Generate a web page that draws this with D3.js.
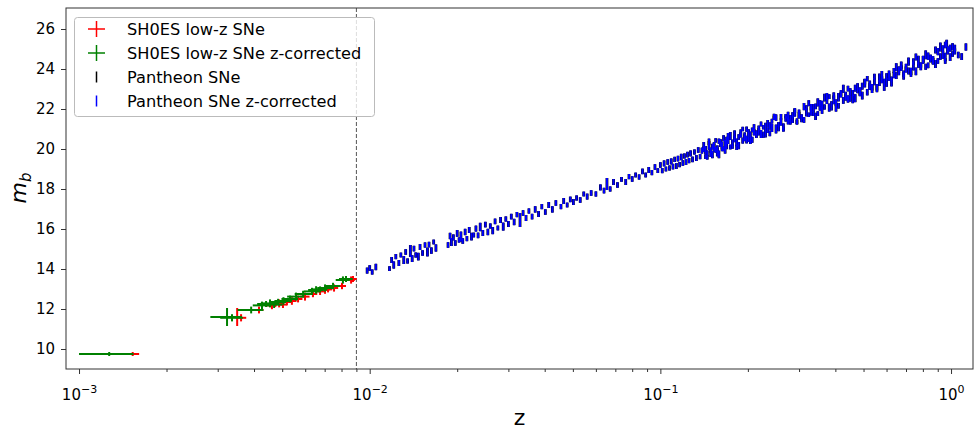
<!DOCTYPE html>
<html>
<head>
  <meta charset="utf-8">
  <style>
  body { margin: 0; background: #fff; }
  svg text { font-family: "DejaVu Sans", sans-serif; fill: #000; }
  .axis path, .axis line { stroke: #333; }
  .axis text { font-size: 15px; font-family: "DejaVu Sans", sans-serif; }
  .legend text { font-size: 16.2px; }
  </style>
</head>
<body>
<script src="https://d3js.org/d3.v7.min.js"></script>
<script type="text/javascript">
// SH0ES calibrators: [z, zErr, zCorrected, zCorrectedErr, mb, mbErr]
var sh0es = [
  [0.00153, 0.00008, 0.00127, 0.00027, 9.75, 0.10],
  [0.00350, 0.00012, 0.00323, 0.00040, 11.60, 0.45],
  [0.00361, 0.00015, 0.00336, 0.00030, 11.56, 0.18],
  [0.00416, 0.00015, 0.00391, 0.00040, 11.95, 0.17],
  [0.00461, 0.00018, 0.00426, 0.00030, 12.18, 0.19],
  [0.00472, 0.00018, 0.00440, 0.00030, 12.25, 0.15],
  [0.00488, 0.00018, 0.00454, 0.00032, 12.28, 0.20],
  [0.00503, 0.00018, 0.00469, 0.00032, 12.22, 0.17],
  [0.00519, 0.00020, 0.00484, 0.00032, 12.35, 0.16],
  [0.00540, 0.00020, 0.00505, 0.00035, 12.40, 0.19],
  [0.00567, 0.00020, 0.00532, 0.00035, 12.50, 0.17],
  [0.00599, 0.00022, 0.00558, 0.00038, 12.62, 0.20],
  [0.00638, 0.00022, 0.00590, 0.00038, 12.75, 0.16],
  [0.00675, 0.00024, 0.00633, 0.00040, 12.88, 0.18],
  [0.00702, 0.00024, 0.00654, 0.00040, 12.95, 0.19],
  [0.00719, 0.00024, 0.00675, 0.00040, 12.98, 0.15],
  [0.00754, 0.00025, 0.00702, 0.00042, 13.05, 0.18],
  [0.00803, 0.00026, 0.00748, 0.00042, 13.15, 0.16],
  [0.00863, 0.00026, 0.00809, 0.00045, 13.45, 0.18],
  [0.00876, 0.00026, 0.00829, 0.00045, 13.50, 0.15]
];

// Pantheon, low z: [z, mb, mbErr]
var pantheonLow = [
  [0.0098,13.92,0.15],[0.0100,14.05,0.14],[0.0102,13.85,0.13],[0.0105,14.10,0.16],
  [0.0117,14.02,0.12],[0.0119,14.45,0.15],[0.0121,14.20,0.18],[0.0123,14.62,0.13],
  [0.0126,14.30,0.15],[0.0128,14.70,0.12],[0.0131,14.45,0.20],[0.0133,14.85,0.14],
  [0.0135,14.40,0.13],[0.0138,14.90,0.30],[0.0140,14.52,0.17],[0.0142,15.02,0.14],
  [0.0144,14.70,0.13],[0.0147,14.62,0.19],[0.0149,15.10,0.15],[0.0152,14.80,0.14],
  [0.0155,15.20,0.13],[0.0158,14.85,0.22],[0.0160,15.22,0.14],[0.0163,14.92,0.16],
  [0.0166,15.35,0.12],[0.0169,15.05,0.18],
  [0.0186,15.20,0.14],[0.0189,15.65,0.16],[0.0191,15.35,0.20],[0.0194,15.58,0.15],
  [0.0197,15.30,0.14],[0.0200,15.78,0.17],[0.0203,15.45,0.13],[0.0206,15.62,0.25],
  [0.0209,15.40,0.14],[0.0213,15.85,0.16],[0.0216,15.52,0.13],[0.0220,15.95,0.15],
  [0.0224,15.62,0.19],[0.0228,15.70,0.12],[0.0232,16.02,0.15],[0.0236,15.68,0.14],
  [0.0240,16.10,0.21],[0.0245,15.80,0.15],[0.0250,16.22,0.14],[0.0255,15.85,0.16],
  [0.0260,16.15,0.13],[0.0265,15.92,0.18],[0.0270,16.38,0.14],[0.0276,16.05,0.12],
  [0.0282,16.45,0.15],[0.0288,16.12,0.20],[0.0294,16.50,0.13],
  [0.0300,16.25,0.15],[0.0307,16.62,0.14],[0.0314,16.35,0.16],[0.0321,16.72,0.13],
  [0.0329,16.45,0.35],[0.0337,16.80,0.14],[0.0345,16.55,0.15],[0.0353,16.90,0.13],
  [0.0362,16.62,0.14],[0.0371,16.98,0.16],[0.0381,16.75,0.15],[0.0391,17.12,0.13],
  [0.0402,16.85,0.14],[0.0413,17.20,0.15],[0.0425,16.98,0.16],[0.0437,17.30,0.14]
];

// Pantheon, intermediate z
var pantheonMid = [
  [0.0455,17.12,0.13],[0.0465,17.40,0.15],[0.0478,17.20,0.12],[0.0490,17.48,0.14],
  [0.0502,17.35,0.15],[0.0515,17.55,0.13],[0.0530,17.45,0.14],[0.0545,17.75,0.12],
  [0.0560,17.62,0.15],[0.0578,17.80,0.14],[0.0600,17.75,0.13],[0.0622,18.08,0.15],
  [0.0640,17.92,0.14],[0.0655,18.25,0.30],[0.0672,18.00,0.13],[0.0690,18.35,0.15],
  [0.0712,18.20,0.14],[0.0735,18.48,0.12],[0.0760,18.35,0.15],[0.0780,18.62,0.13],
  [0.0800,18.50,0.14],[0.0822,18.70,0.12],[0.0845,18.60,0.13],[0.0868,18.88,0.14],
  [0.0890,18.70,0.12],[0.0912,18.95,0.15],[0.0935,18.82,0.13],[0.0958,19.10,0.14],
  [0.0980,18.92,0.12],
  [0.1000,19.20,0.14],[0.1015,18.92,0.13],[0.1030,19.28,0.15],[0.1045,19.00,0.12],
  [0.1060,19.35,0.14],[0.1075,19.05,0.13],[0.1090,19.38,0.15],[0.1105,19.12,0.14],
  [0.1120,19.48,0.13],[0.1135,19.15,0.15],[0.1150,19.52,0.14],[0.1165,19.22,0.13],
  [0.1180,19.60,0.16],[0.1195,19.30,0.14],[0.1210,19.65,0.13],[0.1225,19.35,0.15],
  [0.1240,19.72,0.14],[0.1255,19.42,0.13],[0.1270,19.78,0.15],[0.1290,19.48,0.14],
  [0.1310,19.85,0.13],[0.1330,19.55,0.15],[0.1350,19.95,0.14],[0.1370,19.62,0.13],
  [0.1390,19.92,0.15]
];

// Pantheon, high z
var pantheonHigh = [
  [0.141,19.99,0.14],[0.141,20.17,0.18],[0.143,19.62,0.12],[0.143,19.95,0.20],
  [0.145,19.78,0.15],[0.145,19.58,0.11],[0.147,20.18,0.22],[0.147,20.36,0.16],
  [0.149,19.94,0.13],[0.149,19.79,0.19],[0.151,20.12,0.14],[0.151,19.72,0.18],
  [0.153,20.23,0.12],[0.153,20.07,0.20],[0.155,19.96,0.15],[0.155,20.43,0.11],
  [0.157,19.85,0.22],[0.157,20.02,0.16],[0.159,20.39,0.13],[0.159,19.73,0.19],
  [0.161,20.24,0.14],[0.161,20.31,0.18],[0.163,20.01,0.12],[0.163,20.17,0.20],
  [0.165,20.54,0.15],[0.165,20.00,0.11],[0.167,20.25,0.22],[0.167,19.93,0.16],
  [0.169,20.48,0.13],[0.169,20.18,0.19],[0.171,20.66,0.14],[0.171,20.43,0.18],
  [0.174,20.10,0.12],[0.174,20.65,0.20],[0.177,20.32,0.15],[0.177,20.12,0.11],
  [0.180,20.71,0.22],[0.180,20.50,0.16],[0.183,20.08,0.13],[0.183,20.33,0.19],
  [0.186,20.60,0.14],[0.186,20.17,0.18],[0.189,20.71,0.12],[0.189,20.78,0.20],
  [0.192,20.42,0.15],[0.192,21.00,0.11],[0.195,20.61,0.22],[0.195,20.58,0.16],
  [0.198,20.99,0.13],[0.198,20.47,0.19],[0.201,20.49,0.14],[0.201,20.81,0.18],
  [0.204,20.75,0.12],[0.204,20.45,0.20],[0.207,20.46,0.15],[0.207,20.96,0.11],
  [0.210,21.02,0.22],[0.210,20.84,0.16],[0.214,20.76,0.13],[0.214,20.74,0.19],
  [0.218,21.03,0.14],[0.218,20.86,0.18],[0.222,21.25,0.12],[0.222,20.75,0.20],
  [0.226,20.71,0.15],[0.226,21.09,0.11],[0.230,21.09,0.22],[0.230,20.74,0.16],
  [0.234,20.93,0.13],[0.234,21.26,0.19],[0.238,20.78,0.14],[0.238,21.15,0.18],
  [0.242,21.39,0.12],[0.242,21.05,0.20],[0.246,21.61,0.15],[0.246,21.56,0.11],
  [0.250,21.00,0.22],[0.250,21.57,0.16],[0.255,21.22,0.13],[0.255,21.08,0.19],
  [0.260,21.61,0.14],[0.260,21.35,0.18],[0.265,21.00,0.12],[0.265,21.08,0.20],
  [0.270,21.52,0.15],[0.270,21.64,0.11],[0.275,21.64,0.22],[0.275,21.39,0.16],
  [0.280,21.35,0.13],[0.280,21.51,0.19],[0.285,21.70,0.14],[0.285,21.48,0.18],
  [0.290,21.92,0.12],[0.290,21.82,0.20],[0.295,21.38,0.15],[0.295,21.34,0.11],
  [0.300,21.75,0.22],[0.300,21.70,0.16],[0.306,21.60,0.13],[0.306,21.53,0.19],
  [0.312,21.45,0.14],[0.312,22.12,0.18],[0.318,22.07,0.12],[0.318,21.83,0.20],
  [0.324,22.29,0.15],[0.324,21.71,0.11],[0.330,21.89,0.22],[0.330,22.09,0.16],
  [0.336,21.78,0.13],[0.336,22.06,0.19],[0.342,22.13,0.14],[0.342,21.63,0.18],
  [0.348,21.77,0.12],[0.348,22.33,0.20],[0.354,22.29,0.15],[0.354,22.03,0.11],
  [0.360,22.19,0.22],[0.360,21.92,0.16],[0.367,22.10,0.13],[0.367,22.57,0.19],
  [0.374,22.39,0.14],[0.374,22.62,0.18],[0.381,22.62,0.12],[0.381,22.07,0.20],
  [0.388,22.08,0.15],[0.388,22.28,0.11],[0.395,22.46,0.22],[0.395,22.67,0.16],
  [0.402,22.31,0.17],[0.402,22.06,0.19],[0.410,22.16,0.14],[0.410,22.59,0.21],
  [0.418,22.78,0.16],[0.418,22.71,0.13],[0.426,23.01,0.20],[0.426,22.43,0.17],
  [0.434,22.61,0.15],[0.434,22.64,0.22],[0.442,22.50,0.18],[0.442,23.02,0.14],
  [0.450,22.85,0.19],[0.450,22.53,0.16],[0.459,22.50,0.21],[0.459,22.80,0.15],
  [0.468,23.04,0.17],[0.468,22.54,0.20],[0.477,22.93,0.14],[0.477,23.11,0.18],
  [0.486,22.84,0.16],[0.486,22.86,0.22],[0.495,23.14,0.17],[0.495,22.67,0.19],
  [0.505,23.37,0.14],[0.505,23.29,0.21],[0.515,22.84,0.16],[0.515,23.52,0.13],
  [0.525,23.22,0.20],[0.525,23.12,0.17],[0.535,23.07,0.15],[0.535,23.02,0.22],
  [0.545,23.37,0.18],[0.545,23.62,0.14],[0.556,23.03,0.19],[0.556,23.08,0.16],
  [0.567,23.56,0.21],[0.567,23.30,0.15],[0.578,23.46,0.17],[0.578,23.70,0.20],
  [0.589,23.37,0.14],[0.589,23.09,0.18],[0.600,23.63,0.16],[0.600,23.33,0.22],
  [0.612,23.75,0.17],[0.612,23.60,0.19],[0.624,23.48,0.14],[0.624,23.34,0.21],
  [0.636,23.70,0.16],[0.636,23.92,0.13],[0.648,24.09,0.20],[0.648,23.67,0.17],
  [0.661,23.95,0.15],[0.661,23.91,0.22],[0.674,24.19,0.18],[0.674,24.04,0.14],
  [0.687,23.66,0.19],[0.687,23.76,0.16],[0.700,24.05,0.21],[0.700,23.98,0.15],
  [0.714,23.90,0.17],[0.714,24.37,0.20],[0.728,23.75,0.14],[0.728,23.88,0.18],
  [0.742,24.37,0.16],[0.742,24.15,0.22],[0.757,24.60,0.17],[0.757,23.88,0.19],
  [0.772,24.20,0.14],[0.772,24.45,0.21],[0.787,24.10,0.16],[0.787,24.20,0.13],
  [0.802,24.46,0.20],[0.802,24.48,0.17],[0.818,24.11,0.15],[0.818,24.71,0.22],
  [0.834,24.64,0.18],[0.834,24.18,0.14],[0.850,24.52,0.19],[0.850,24.55,0.16],
  [0.867,24.43,0.21],[0.867,24.40,0.15],[0.884,24.95,0.17],[0.884,24.25,0.20],
  [0.901,24.40,0.14],[0.901,24.87,0.18],[0.919,24.62,0.16],[0.919,25.10,0.22],
  [0.937,25.01,0.17],[0.937,24.70,0.19],[0.955,24.40,0.14],[0.955,24.60,0.21],
  [0.955,25.20,0.16],[0.966,25.28,0.18],[0.974,24.93,0.20],[0.974,24.95,0.15],
  [0.993,25.04,0.17],[0.993,24.59,0.19],[1.012,24.75,0.14],[1.012,25.11,0.18],
  [1.030,25.05,0.16],[1.030,24.88,0.15],[1.059,24.70,0.16],[1.088,24.62,0.17],
  [1.125,25.10,0.18]
];

var zCut = 0.009;
var legendLabels = ["SH0ES low-z SNe", "SH0ES low-z SNe z-corrected", "Pantheon SNe", "Pantheon SNe z-corrected"];
var legendColors = ["#ff0000", "#008000", "#000000", "#0000ff"];
var xMajorTicks = [1e-3, 1e-2, 1e-1, 1e0];
var yTicks = [10, 12, 14, 16, 18, 20, 22, 24, 26];

var width = 978, height = 432;
var plot = {left: 66, right: 973, top: 8, bottom: 369};

var svg = d3.select("body").append("svg")
    .attr("width", width)
    .attr("height", height);

var x = d3.scaleLog().domain([0.000902, 1.19]).range([plot.left, plot.right]);
var y = d3.scaleLinear().domain([9, 27.05]).range([plot.bottom, plot.top]);

svg.append("clipPath").attr("id", "clip")
  .append("rect")
    .attr("x", plot.left).attr("y", plot.top)
    .attr("width", plot.right - plot.left).attr("height", plot.bottom - plot.top);

var g = svg.append("g").attr("clip-path", "url(#clip)");

// dashed cut line
g.append("line")
    .attr("x1", x(zCut)).attr("x2", x(zCut))
    .attr("y1", plot.top).attr("y2", plot.bottom)
    .attr("stroke", "#555").attr("stroke-width", 1)
    .attr("stroke-dasharray", "4,2");

function crosses(rows, zi, zei, color) {
  var s = g.append("g").attr("stroke", color).attr("stroke-width", 2);
  s.selectAll("line.h").data(rows).enter().append("line")
      .attr("x1", function(d) { return x(d[zi] - d[zei]); })
      .attr("x2", function(d) { return x(d[zi] + d[zei]); })
      .attr("y1", function(d) { return y(d[4]); })
      .attr("y2", function(d) { return y(d[4]); });
  s.selectAll("line.v").data(rows).enter().append("line")
      .attr("x1", function(d) { return x(d[zi]); })
      .attr("x2", function(d) { return x(d[zi]); })
      .attr("y1", function(d) { return y(d[4] - d[5]); })
      .attr("y2", function(d) { return y(d[4] + d[5]); });
}

crosses(sh0es, 0, 1, legendColors[0]);
crosses(sh0es, 2, 3, legendColors[1]);

var pantheon = pantheonLow.concat(pantheonMid, pantheonHigh);

function bars(rows, color, w) {
  g.append("g").attr("stroke", color).attr("stroke-width", w)
    .selectAll("line").data(rows).enter().append("line")
      .attr("x1", function(d) { return x(d[0]); })
      .attr("x2", function(d) { return x(d[0]); })
      .attr("y1", function(d) { return y(d[1] - d[2]); })
      .attr("y2", function(d) { return y(d[1] + d[2]); });
}
bars(pantheon, legendColors[2], 2.8);
bars(pantheon, legendColors[3], 2.0);

// axes
var minorTicks = x.ticks().filter(function(t) {
  return xMajorTicks.every(function(m) { return Math.abs(t / m - 1) > 1e-6; });
});

svg.append("g").attr("class", "axis")
    .attr("transform", "translate(0," + plot.bottom + ")")
    .call(d3.axisBottom(x).tickValues(minorTicks).tickSize(3).tickFormat(""))
    .call(function(s) { s.select(".domain").remove(); });

var xAxis = svg.append("g").attr("class", "axis")
    .attr("transform", "translate(0," + plot.bottom + ")")
    .call(d3.axisBottom(x).tickValues(xMajorTicks).tickSize(5).tickFormat(""))
    .call(function(s) { s.select(".domain").remove(); });

xAxis.selectAll(".tick").append("text")
    .attr("y", 31)
    .attr("text-anchor", "middle")
    .each(function(d) {
      var t = d3.select(this);
      t.append("tspan").text("10");
      t.append("tspan").attr("dy", -7).style("font-size", "11px")
        .text(String(Math.round(Math.log10(d))).replace("-", "\u2212"));
    });

svg.append("g").attr("class", "axis")
    .attr("transform", "translate(" + plot.left + ",0)")
    .call(d3.axisLeft(y).tickValues(yTicks).tickSize(5).tickPadding(6))
    .call(function(s) { s.select(".domain").remove(); });

svg.append("rect")
    .attr("x", plot.left).attr("y", plot.top)
    .attr("width", plot.right - plot.left).attr("height", plot.bottom - plot.top)
    .attr("fill", "none").attr("stroke", "#333").attr("stroke-width", 1);

// axis labels
svg.append("text")
    .attr("x", (plot.left + plot.right) / 2).attr("y", 425)
    .attr("text-anchor", "middle").style("font-size", "22px")
    .text("z");

var yl = svg.append("text")
    .attr("transform", "translate(26,188) rotate(-90)")
    .attr("text-anchor", "middle").style("font-size", "22px")
    .style("font-style", "italic");
yl.append("tspan").text("m");
yl.append("tspan").attr("dy", 5).style("font-size", "15px").text("b");

// legend
var legend = svg.append("g").attr("class", "legend");
legend.append("rect")
    .attr("x", 74.5).attr("y", 17.5).attr("width", 300).attr("height", 99)
    .attr("rx", 3)
    .attr("fill", "#fff").attr("fill-opacity", 0.8)
    .attr("stroke", "#bbb").attr("stroke-width", 1);

var legendY = d3.scalePoint().domain(legendLabels).range([29, 101]);

legendLabels.forEach(function(label, i) {
  var row = legend.append("g").attr("transform", "translate(0," + legendY(label) + ")");
  if (i < 2) {
    row.append("line").attr("x1", 88).attr("x2", 105).attr("y1", 0).attr("y2", 0)
       .attr("stroke", legendColors[i]).attr("stroke-width", 1.5);
    row.append("line").attr("x1", 96.5).attr("x2", 96.5).attr("y1", -8).attr("y2", 8)
       .attr("stroke", legendColors[i]).attr("stroke-width", 1.5);
  } else {
    row.append("line").attr("x1", 96.5).attr("x2", 96.5).attr("y1", -5.5).attr("y2", 5.5)
       .attr("stroke", legendColors[i]).attr("stroke-width", 1.5);
  }
  row.append("text").attr("x", 127).attr("y", 5.5).text(label);
});
</script>
</body>
</html>
